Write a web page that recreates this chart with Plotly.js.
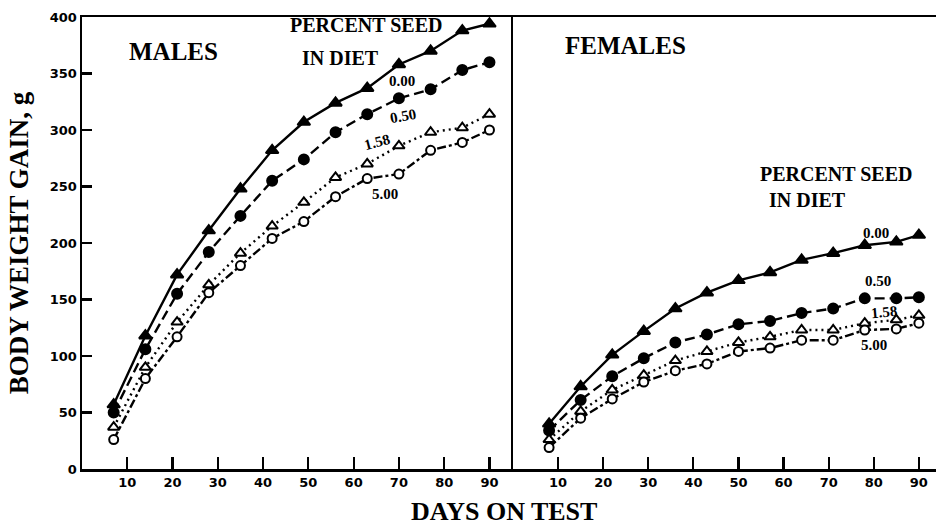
<!DOCTYPE html>
<html>
<head>
<meta charset="utf-8">
<script src="https://cdn.plot.ly/plotly-3.0.1.min.js"></script>
<style>html,body{margin:0;padding:0;background:#fff;}#chart{width:936px;height:525px;}</style>
</head>
<body>
<div id="chart"></div>
<script>
// Days on test
const maleDays   = [7, 14, 21, 28, 35, 42, 49, 56, 63, 70, 77, 84, 90];
const femaleDays = [8, 15, 22, 29, 36, 43, 50, 57, 64, 71, 78, 85, 90];

// Percent seed in diet (series labels)
const seedLevels = ["0.00", "0.50", "1.58", "5.00"];

// Body weight gain, g — males
const male000 = [57, 118, 172, 211, 248, 282, 307, 324, 337, 358, 370, 388, 394];
const male050 = [50, 106, 155, 192, 224, 255, 274, 298, 314, 328, 336, 353, 360];
const male158 = [37, 90, 130, 163, 191, 215, 236, 258, 270, 286, 298, 302, 314];
const male500 = [26, 80, 117, 156, 180, 204, 219, 241, 257, 261, 282, 289, 300];

// Body weight gain, g — females
const female000 = [40, 73, 101, 122, 142, 156, 167, 174, 185, 191, 198, 201, 207];
const female050 = [34, 61, 82, 98, 112, 119, 128, 131, 138, 142, 151, 151, 152];
const female158 = [26, 51, 70, 83, 96, 104, 112, 117, 123, 123, 129, 132, 136];
const female500 = [19, 45, 62, 77, 87, 93, 104, 107, 114, 114, 123, 124, 129];

// Tick values
const xTicks = [10, 20, 30, 40, 50, 60, 70, 80, 90];
const yTicks = [0, 50, 100, 150, 200, 250, 300, 350, 400];

const styles = [
  {dash: "solid",               symbol: "triangle-up", fill: "#000", size: 11},
  {dash: "10px,5px",            symbol: "circle",      fill: "#000", size: 10},
  {dash: "2px,4px",             symbol: "triangle-up", fill: "#fff", size: 10},
  {dash: "9px,3px,3px,3px",     symbol: "circle",      fill: "#fff", size: 9}
];

function mk(x, y, i, xa, ya) {
  const s = styles[i];
  return {
    x: x, y: y, xaxis: xa, yaxis: ya, type: "scatter", mode: "lines+markers",
    name: seedLevels[i], showlegend: false, hoverinfo: "skip",
    line: {color: "#000", width: 2.4, dash: s.dash},
    marker: {symbol: s.symbol, size: s.size, color: s.fill, line: {color: "#000", width: 2}}
  };
}

const traces = [
  mk(maleDays, male000, 0, "x", "y"),
  mk(maleDays, male050, 1, "x", "y"),
  mk(maleDays, male158, 2, "x", "y"),
  mk(maleDays, male500, 3, "x", "y"),
  mk(femaleDays, female000, 0, "x2", "y2"),
  mk(femaleDays, female050, 1, "x2", "y2"),
  mk(femaleDays, female158, 2, "x2", "y2"),
  mk(femaleDays, female500, 3, "x2", "y2")
];

const serif = "Liberation Serif, Times New Roman, serif";
const tickFont = {family: "DejaVu Sans", size: 13, color: "#000", weight: "bold"};

function ann(text, x, y, xref, yref, size, angle) {
  return {text: "<b>" + text + "</b>", x: x, y: y, xref: xref, yref: yref,
    xanchor: "center", yanchor: "middle",
    showarrow: false, textangle: angle || 0,
    font: {family: serif, size: size, color: "#000"}};
}

const xBase = {
  tickvals: xTicks, ticktext: xTicks.map(String), ticks: "inside", ticklen: 12, tickwidth: 2.2,
  tickcolor: "#000", showline: true, linecolor: "#000", linewidth: 2.5, mirror: true,
  showgrid: false, zeroline: false, tickfont: tickFont, fixedrange: true
};

const layout = {
  width: 936, height: 525,
  margin: {l: 82, r: 0, t: 17, b: 56},
  paper_bgcolor: "#fff", plot_bgcolor: "#fff",
  xaxis: Object.assign({}, xBase, {domain: [0, 0.5047], range: [0, 95.2], anchor: "y"}),
  xaxis2: Object.assign({}, xBase, {domain: [0.5047, 1], range: [0, 93.8], anchor: "y2"}),
  yaxis: {
    range: [0, 400], tickvals: yTicks, ticktext: yTicks.map(String),
    ticks: "inside", ticklen: 10, tickwidth: 2.2, tickcolor: "#000",
    showline: true, linecolor: "#000", linewidth: 2.5, mirror: false,
    showgrid: false, zeroline: false, tickfont: tickFont, ticklabelstandoff: 0,
    fixedrange: true, anchor: "x",
    title: {text: "<b>BODY WEIGHT GAIN, g</b>", font: {family: serif, size: 27, color: "#000"}, standoff: 14}
  },
  yaxis2: {
    range: [0, 400], showticklabels: false, ticks: "", showline: true,
    linecolor: "#000", linewidth: 2.5, showgrid: false, zeroline: false,
    fixedrange: true, anchor: "x2"
  },
  annotations: [
    ann("DAYS ON TEST", 0.494, -0.095, "paper", "paper", 26),
    ann("MALES", 20.2, 369.5, "x", "y", 25),
    ann("PERCENT SEED", 62.8, 393, "x", "y", 20),
    ann("IN DIET", 57.2, 364, "x", "y", 20),
    ann(seedLevels[0], 70.7, 343.4, "x", "y", 15),
    ann(seedLevels[1], 70.9, 312.4, "x", "y", 15, -10),
    ann(seedLevels[2], 65.2, 289.4, "x", "y", 15, -15),
    ann(seedLevels[3], 66.9, 243.4, "x", "y", 15),
    ann("FEMALES", 24.9, 375.2, "x2", "y2", 25),
    ann("PERCENT SEED", 71.7, 261.5, "x2", "y2", 20),
    ann("IN DIET", 65.2, 238, "x2", "y2", 20),
    ann(seedLevels[0], 80.4, 208.8, "x2", "y2", 15),
    ann(seedLevels[1], 80.9, 166.4, "x2", "y2", 15),
    ann(seedLevels[2], 82.3, 138.9, "x2", "y2", 15, -5),
    ann(seedLevels[3], 80.1, 109.7, "x2", "y2", 15)
  ]
};

Plotly.newPlot("chart", traces, layout, {displayModeBar: false, staticPlot: true});
</script>
</body>
</html>
